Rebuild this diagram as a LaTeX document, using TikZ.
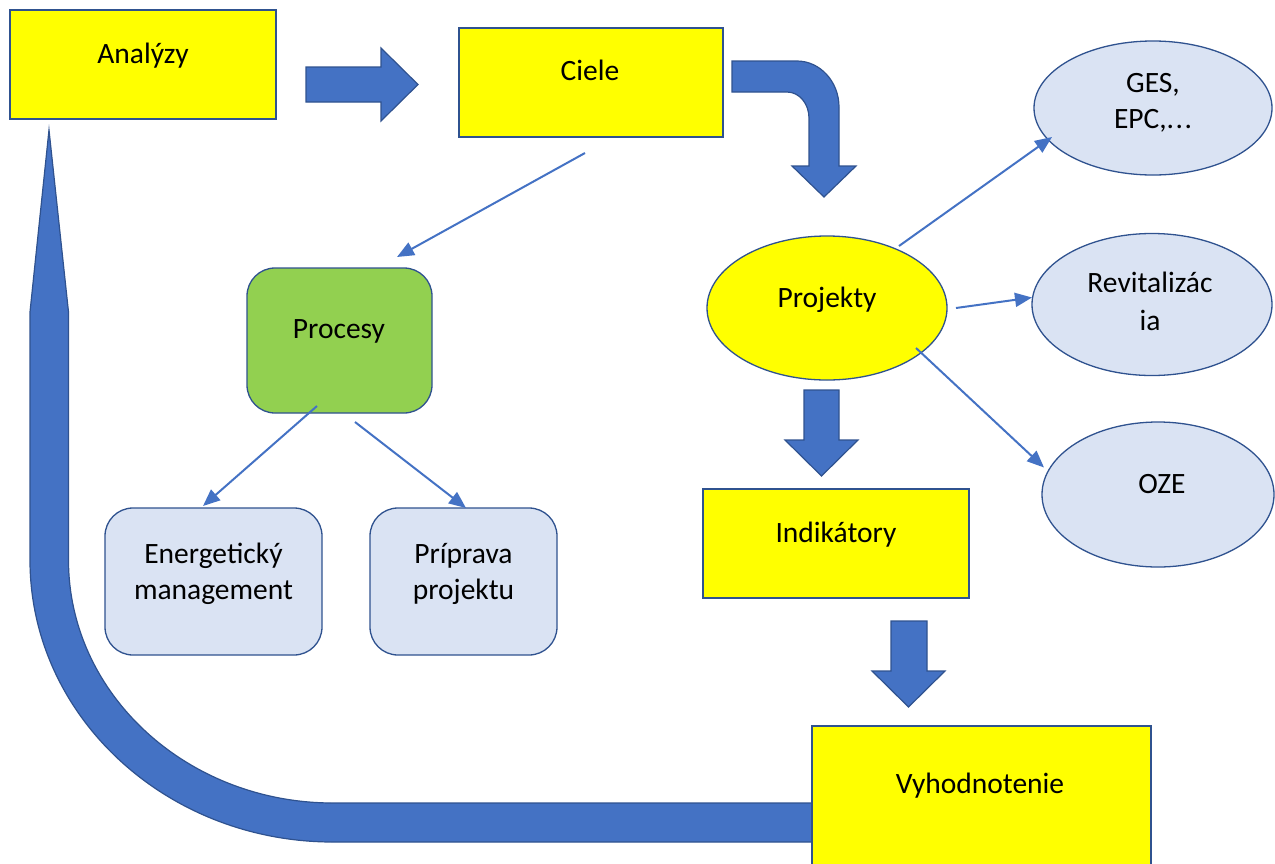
\documentclass[tikz,border=0pt]{standalone}
\usepackage{fontspec}
\setmainfont{Carlito}
\usetikzlibrary{arrows.meta,shapes.geometric,calc}
\definecolor{barrow}{HTML}{4472C4}
\definecolor{bedge}{HTML}{2F528F}
\definecolor{ylw}{HTML}{FFFF00}
\definecolor{grn}{HTML}{92D050}
\definecolor{lblue}{HTML}{DAE3F3}
\begin{document}
\begin{tikzpicture}[x=1pt,y=-1pt,
  shapebox/.style={draw=bedge, line width=1.3pt, inner sep=0pt, outer sep=0pt},
  ybox/.style={shapebox, rectangle, fill=ylw},
  rbox/.style={shapebox, rectangle, rounded corners=28pt},
  ell/.style={shapebox, ellipse, fill=lblue},
  lbl/.style={anchor=base, inner sep=0pt, text=black, font=\fontsize{29.5}{35}\selectfont},
  thinarrow/.style={draw=barrow, line width=2pt, -{Triangle[length=17pt,width=14pt]}},
  blockarrow/.style={fill=barrow, draw=bedge, line width=1.2pt, line join=miter}
]
\useasboundingbox (0,0) rectangle (1275,863);
\clip (0,0) rectangle (1275,863);

% big return arrow (Vyhodnotenie -> Analyzy)
\path[blockarrow] (812,842) -- (333,842)
  .. controls (165.7,842) and (30,715.7) .. (30,560)
  -- (30,312) -- (49,130) -- (68.5,312) -- (68.5,560)
  .. controls (68.5,694.2) and (187.2,803) .. (333,803)
  -- (812,803) -- cycle;

% boxes
\node[ybox, minimum width=266pt, minimum height=109pt] (ana) at (143,64.5) {};
\node[ybox, minimum width=264pt, minimum height=109pt] (cie) at (591,82.5) {};
\node[rbox, fill=grn, minimum width=185pt, minimum height=145pt] (pro) at (339.5,340.5) {};
\node[rbox, fill=lblue, minimum width=217pt, minimum height=147pt] (ene) at (213.5,581.5) {};
\node[rbox, fill=lblue, minimum width=187pt, minimum height=147pt] (pri) at (463.5,581.5) {};
\node[ell, fill=ylw, minimum width=240pt, minimum height=144pt] (prj) at (827,308) {};
\node[ell, minimum width=238pt, minimum height=134pt] (ges) at (1153,108) {};
\node[ell, minimum width=240pt, minimum height=142pt] (rev) at (1152,304.5) {};
\node[ell, minimum width=232pt, minimum height=145pt] (oze) at (1158,494.5) {};
\node[ybox, minimum width=266pt, minimum height=109pt] (ind) at (836,543.5) {};
\node[ybox, minimum width=339pt, minimum height=174pt] (vyh) at (981.5,813) {};

% labels
\node[lbl] (tana) at (143,63) {Analýzy};
\node[lbl] (tcie) at (590,80) {Ciele};
\node[lbl] (tpro) at (339,338) {Procesy};
\node[lbl] (tene1) at (213.5,563) {Energetický};
\node[lbl] (tene2) at (213.5,599) {management};
\node[lbl] (tpri1) at (463.5,563) {Príprava};
\node[lbl] (tpri2) at (463.5,599) {projektu};
\node[lbl] (tprj) at (827,307) {Projekty};
\node[lbl] (tges1) at (1153,92) {GES,};
\node[lbl] (tges2) at (1153,128) {EPC,.\kern1.5pt.\kern1.5pt.};
\node[lbl] (trev1) at (1150,292) {Revitalizác};
\node[lbl] (trev2) at (1150,330) {ia};
\node[lbl] (toze) at (1162,493) {OZE};
\node[lbl] (tind) at (836,542) {Indikátory};
\node[lbl] (tvyh) at (980,793) {Vyhodnotenie};

% block arrows
\path[blockarrow] (306,67) -- (381,67) -- (381,48) -- (418,84.5) -- (381,121) -- (381,102) -- (306,102) -- cycle;
\path[blockarrow] (732,61) -- (797,61) .. controls (820,61) and (839,81.6) .. (839,107)
  -- (839,166) -- (856,166) -- (824,197) -- (792,166) -- (809,166) -- (809,118)
  .. controls (809,103.6) and (799.2,92) .. (787,92) -- (732,92) -- cycle;
\path[blockarrow] (804,390) -- (839,390) -- (839,440) -- (858,440) -- (821.5,476) -- (785,440) -- (804,440) -- cycle;
\path[blockarrow] (891,621) -- (927,621) -- (927,671) -- (945,671) -- (908.5,707) -- (872,671) -- (891,671) -- cycle;

% thin connectors
\draw[thinarrow] ($(cie.south)+(-6,16)$) -- ($(pro.north)+(57.5,-11)$);
\draw[thinarrow] ($(pro.south)+(-22.5,-7)$) -- ($(ene.north)+(-10.5,-2)$);
\draw[thinarrow] ($(pro.south)+(15.5,9)$) -- ($(pri.north)+(2.5,0)$);
\draw[thinarrow] ($(prj.center)+(72,-62)$) -- ($(ges.center)+(-101,29)$);
\draw[thinarrow] ($(prj.east)+(9,0)$) -- ($(rev.west)+(0,-7)$);
\draw[thinarrow] ($(prj.center)+(89,40)$) -- ($(oze.center)+(-114,-27)$);
\end{tikzpicture}
\end{document}
